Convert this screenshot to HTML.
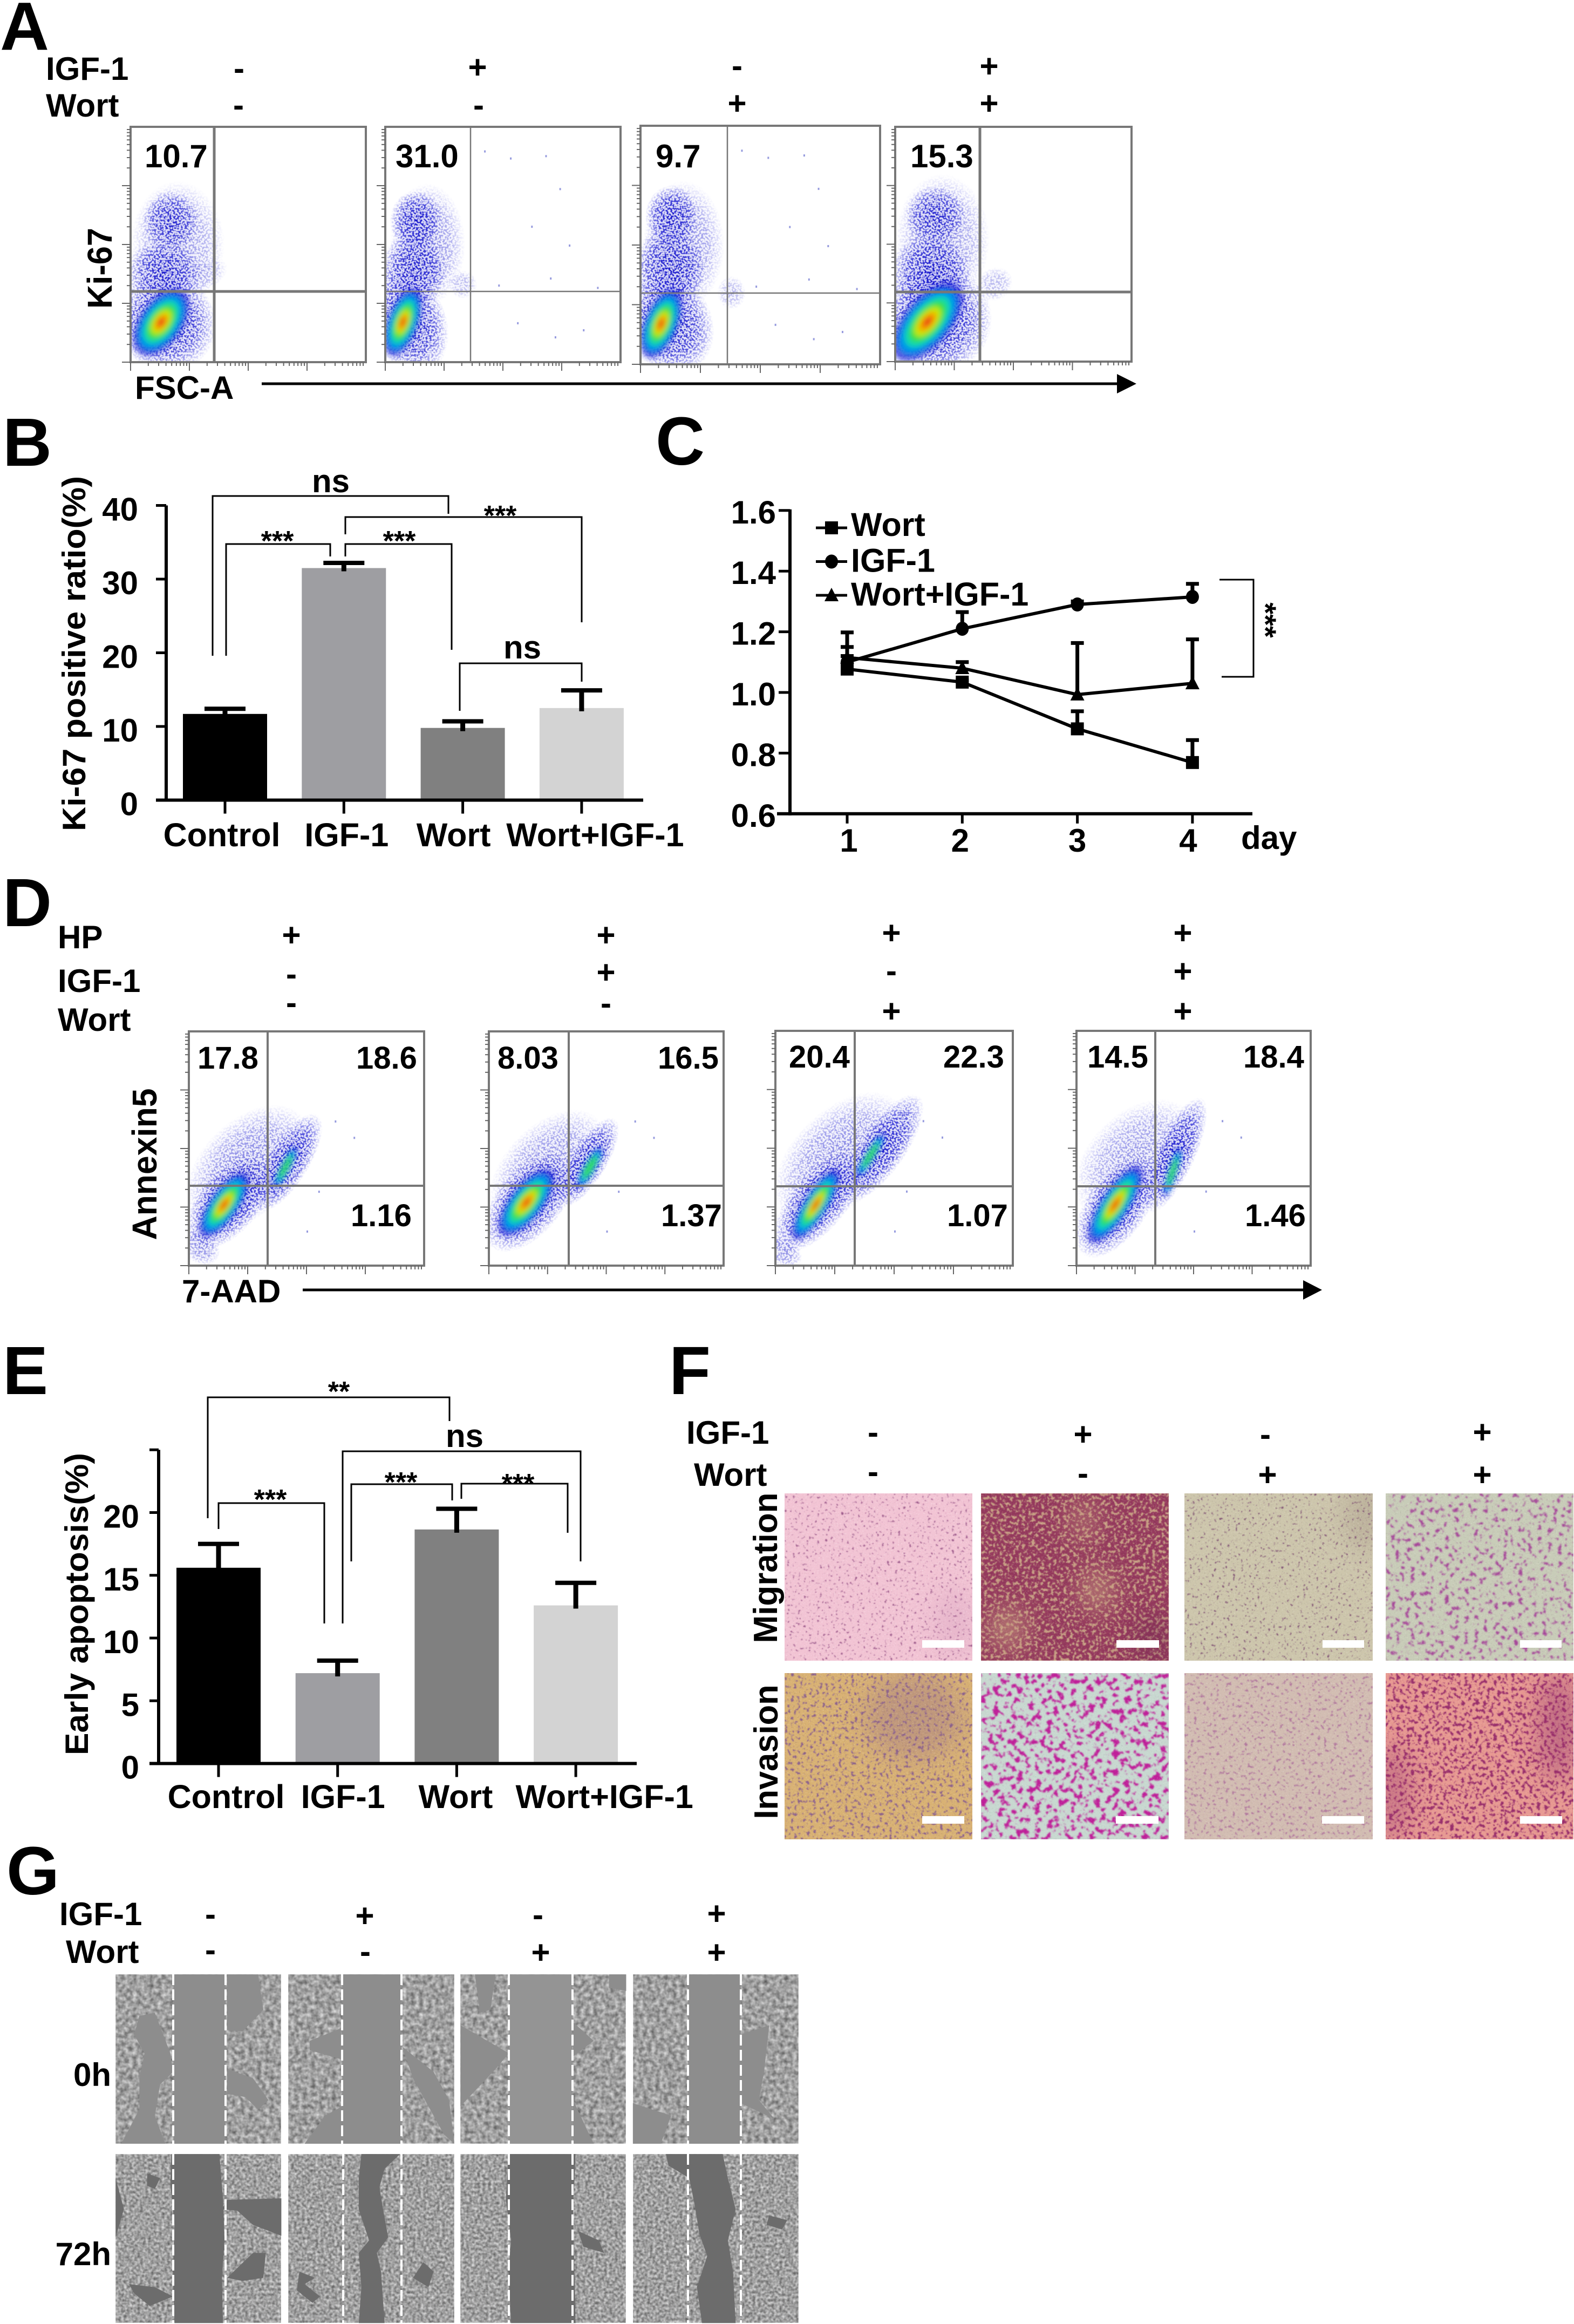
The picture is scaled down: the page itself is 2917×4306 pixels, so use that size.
<!DOCTYPE html>
<html lang="en">
<head>
<meta charset="utf-8">
<title>IGF-1 and wortmannin multi-panel figure</title>
<style>
html,body{margin:0;padding:0;background:#fff}
svg#figure{display:block}
text{font-family:"Liberation Sans",sans-serif;font-weight:bold;fill:#000}
.letter{font-size:126px}
.lab{font-size:60px}
.sign{font-size:60px;text-anchor:middle}
.num{font-size:58px}
.star{font-size:52px;text-anchor:middle}
.br{fill:none;stroke:#000;stroke-width:3}
</style>
</head>
<body>
<svg id="figure" xmlns="http://www.w3.org/2000/svg" width="2917" height="4306" viewBox="0 0 2917 4306">
<defs>
  <radialGradient id="cloudG">
    <stop offset="0" stop-color="#1010c8" stop-opacity="1"/>
    <stop offset=".6" stop-color="#1a1ad0" stop-opacity=".7"/>
    <stop offset="1" stop-color="#3030e0" stop-opacity="0"/>
  </radialGradient>
  <filter id="speckleF" x="0" y="0" width="100%" height="100%" color-interpolation-filters="sRGB">
    <feTurbulence type="fractalNoise" baseFrequency=".28" numOctaves="1" seed="7"/>
    <feColorMatrix values="0 0 0 0 1  0 0 0 0 1  0 0 0 0 1  7 0 0 0 -3.2"/>
  </filter>
  <mask id="speckle" maskUnits="userSpaceOnUse" x="0" y="0" width="2917" height="2500">
    <rect width="2917" height="2500" fill="#fff" filter="url(#speckleF)"/>
  </mask>
  <filter id="coreBlur" x="-30%" y="-30%" width="160%" height="160%"><feGaussianBlur stdDeviation="5"/></filter>
  <filter id="soft" x="-60%" y="-60%" width="220%" height="220%"><feGaussianBlur stdDeviation="22"/></filter>
  <filter id="grainW" x="0" y="0" width="100%" height="100%" color-interpolation-filters="sRGB">
    <feTurbulence type="fractalNoise" baseFrequency=".38" numOctaves="2" seed="11"/>
    <feColorMatrix values="0 0 0 0 1  0 0 0 0 1  0 0 0 0 1  3 0 0 0 -1.8"/>
  </filter>
  <filter id="grainD" x="0" y="0" width="100%" height="100%" color-interpolation-filters="sRGB">
    <feTurbulence type="fractalNoise" baseFrequency=".3" numOctaves="2" seed="23"/>
    <feColorMatrix values="0 0 0 0 .25  0 0 0 0 .2  0 0 0 0 .25  0 2.5 0 0 -1.5"/>
  </filter>
  <filter id="fM1" x="0" y="0" width="100%" height="100%" color-interpolation-filters="sRGB"><feTurbulence type="fractalNoise" baseFrequency=".2" numOctaves="2" seed="3"/><feColorMatrix values="0 0 0 0 .62  0 0 0 0 .36  0 0 0 0 .55  9 0 0 0 -5.85"/><feGaussianBlur stdDeviation=".8"/></filter>
  <filter id="fM2" x="0" y="0" width="100%" height="100%" color-interpolation-filters="sRGB"><feTurbulence type="fractalNoise" baseFrequency=".17" numOctaves="3" seed="5"/><feColorMatrix values="0 0 0 0 .58  0 0 0 0 .22  0 0 0 0 .36  9 0 0 0 -3.3"/><feGaussianBlur stdDeviation=".8"/></filter>
  <filter id="fM3" x="0" y="0" width="100%" height="100%" color-interpolation-filters="sRGB"><feTurbulence type="fractalNoise" baseFrequency=".2" numOctaves="2" seed="9"/><feColorMatrix values="0 0 0 0 .5  0 0 0 0 .32  0 0 0 0 .45  9 0 0 0 -5.85"/><feGaussianBlur stdDeviation=".8"/></filter>
  <filter id="fM4" x="0" y="0" width="100%" height="100%" color-interpolation-filters="sRGB"><feTurbulence type="fractalNoise" baseFrequency=".11" numOctaves="3" seed="14"/><feColorMatrix values="0 0 0 0 .65  0 0 0 0 .28  0 0 0 0 .6  9 0 0 0 -5.3"/><feGaussianBlur stdDeviation="1"/></filter>
  <filter id="fI1" x="0" y="0" width="100%" height="100%" color-interpolation-filters="sRGB"><feTurbulence type="fractalNoise" baseFrequency=".17" numOctaves="3" seed="17"/><feColorMatrix values="0 0 0 0 .55  0 0 0 0 .38  0 0 0 0 .55  9 0 0 0 -5.3"/><feGaussianBlur stdDeviation=".8"/></filter>
  <filter id="fI2" x="0" y="0" width="100%" height="100%" color-interpolation-filters="sRGB"><feTurbulence type="fractalNoise" baseFrequency=".09" numOctaves="3" seed="21"/><feColorMatrix values="0 0 0 0 .75  0 0 0 0 .12  0 0 0 0 .6  10 0 0 0 -5.4"/><feGaussianBlur stdDeviation="1"/></filter>
  <filter id="fI3" x="0" y="0" width="100%" height="100%" color-interpolation-filters="sRGB"><feTurbulence type="fractalNoise" baseFrequency=".17" numOctaves="2" seed="27"/><feColorMatrix values="0 0 0 0 .7  0 0 0 0 .48  0 0 0 0 .62  8 0 0 0 -4.8"/><feGaussianBlur stdDeviation=".8"/></filter>
  <filter id="fI4" x="0" y="0" width="100%" height="100%" color-interpolation-filters="sRGB"><feTurbulence type="fractalNoise" baseFrequency=".15" numOctaves="3" seed="31"/><feColorMatrix values="0 0 0 0 .6  0 0 0 0 .18  0 0 0 0 .42  9 0 0 0 -4.8"/><feGaussianBlur stdDeviation=".8"/></filter>
  <filter id="cells0" x="0" y="0" width="100%" height="100%" color-interpolation-filters="sRGB"><feTurbulence type="fractalNoise" baseFrequency=".13" numOctaves="3" seed="41"/><feColorMatrix values=".65 0 0 0 .3  .65 0 0 0 .3  .65 0 0 0 .3  0 0 0 0 1"/><feGaussianBlur stdDeviation=".7"/></filter>
  <filter id="cells72" x="0" y="0" width="100%" height="100%" color-interpolation-filters="sRGB"><feTurbulence type="fractalNoise" baseFrequency=".2" numOctaves="3" seed="43"/><feColorMatrix values=".75 0 0 0 .25  .75 0 0 0 .25  .75 0 0 0 .25  0 0 0 0 1"/><feGaussianBlur stdDeviation=".7"/></filter>
</defs>

<g id="chart-layer"></g>

<!-- Panel letters -->
<text class="letter" x="0" y="92">A</text>
<text class="letter" x="5" y="863">B</text>
<text class="letter" x="1215" y="861">C</text>
<text class="letter" x="5" y="1716">D</text>
<text class="letter" x="5" y="2583">E</text>
<text class="letter" x="1240" y="2583">F</text>
<text class="letter" x="12" y="3510">G</text>

<!-- Panel A labels -->
<g>
  <text class="lab" x="85" y="148">IGF-1</text>
  <text class="lab" x="85" y="216">Wort</text>
  <text class="sign" x="443" y="147">-</text><text class="sign" x="885" y="145">+</text><text class="sign" x="1366" y="142">-</text><text class="sign" x="1833" y="143">+</text>
  <text class="sign" x="442" y="215">-</text><text class="sign" x="887" y="215">-</text><text class="sign" x="1366" y="212">+</text><text class="sign" x="1833" y="212">+</text>
</g>
<g>
  <text class="lab" x="268" y="310">10.7</text>
  <text class="lab" x="733" y="310">31.0</text>
  <text class="lab" x="1215" y="310">9.7</text>
  <text class="lab" x="1687" y="310">15.3</text>
</g>
<text class="lab" font-size="64" style="font-size:64px" transform="translate(207,497) rotate(-90)" text-anchor="middle" textLength="150" lengthAdjust="spacingAndGlyphs">Ki-67</text>
<text class="lab" x="250" y="739">FSC-A</text>
<g>
  <line x1="485" y1="711" x2="2080" y2="711" stroke="#000" stroke-width="5"/>
  <polygon points="2070,693 2106,711 2070,729" fill="#000"/>
</g>

<!-- Panel B annotations -->
<text class="lab" transform="translate(158,1211) rotate(-90)" text-anchor="middle" textLength="658" lengthAdjust="spacingAndGlyphs">Ki-67 positive ratio(%)</text>
<g>
  <path class="br" d="M394 1215V919H831V952"/>
  <path class="br" d="M640 990V958H1078V1153"/>
  <path class="br" d="M419 1215V1008H612V1031"/>
  <path class="br" d="M640 1031V1008H837V1204"/>
  <path class="br" d="M852 1317V1229H1078V1263"/>
  <text class="lab" x="613" y="912" text-anchor="middle">ns</text>
  <text class="star" x="927" y="973">***</text>
  <text class="star" x="514" y="1020">***</text>
  <text class="star" x="740" y="1020">***</text>
  <text class="lab" x="968" y="1220" text-anchor="middle">ns</text>
</g>

<!-- Panel C annotations -->
<g>
  <path class="br" d="M2260 1074H2323V1254H2264"/>
  <text class="star" transform="translate(2326,1149) rotate(90)" x="0" y="0" style="font-size:56px">***</text>
</g>
<text class="lab" x="2300" y="1573">day</text>

<!-- Panel D labels -->
<g>
  <text class="lab" x="107" y="1757">HP</text>
  <text class="lab" x="107" y="1838">IGF-1</text>
  <text class="lab" x="107" y="1910">Wort</text>
  <text class="sign" x="540" y="1753">+</text><text class="sign" x="540" y="1825">-</text><text class="sign" x="540" y="1878">-</text>
  <text class="sign" x="1123" y="1753">+</text><text class="sign" x="1123" y="1822">+</text><text class="sign" x="1123" y="1879">-</text>
  <text class="sign" x="1652" y="1749">+</text><text class="sign" x="1652" y="1819">-</text><text class="sign" x="1652" y="1894">+</text>
  <text class="sign" x="2192" y="1749">+</text><text class="sign" x="2192" y="1820">+</text><text class="sign" x="2192" y="1894">+</text>
</g>
<g>
  <text class="num" x="366" y="1980">17.8</text><text class="num" x="660" y="1980">18.6</text><text class="num" x="650" y="2272">1.16</text>
  <text class="num" x="922" y="1980">8.03</text><text class="num" x="1219" y="1980">16.5</text><text class="num" x="1225" y="2272">1.37</text>
  <text class="num" x="1462" y="1978">20.4</text><text class="num" x="1748" y="1978">22.3</text><text class="num" x="1755" y="2272">1.07</text>
  <text class="num" x="2015" y="1978">14.5</text><text class="num" x="2304" y="1978">18.4</text><text class="num" x="2307" y="2272">1.46</text>
</g>
<text class="lab" style="font-size:64px" transform="translate(290,2157) rotate(-90)" text-anchor="middle" textLength="281" lengthAdjust="spacingAndGlyphs">Annexin5</text>
<text class="lab" x="337" y="2413">7-AAD</text>
<g>
  <line x1="561" y1="2390" x2="2425" y2="2390" stroke="#000" stroke-width="5"/>
  <polygon points="2415,2372 2450,2390 2415,2408" fill="#000"/>
</g>

<!-- Panel E annotations -->
<text class="lab" transform="translate(163,2972) rotate(-90)" text-anchor="middle" textLength="560" lengthAdjust="spacingAndGlyphs">Early apoptosis(%)</text>
<g>
  <path class="br" d="M385 2813V2589H833V2633"/>
  <path class="br" d="M635 3008V2689H1076V2893"/>
  <path class="br" d="M405 2833V2785H601V3008"/>
  <path class="br" d="M651 2893V2750H838V2780"/>
  <path class="br" d="M855 2777V2749H1052V2840"/>
  <text class="star" x="628" y="2596">**</text>
  <text class="lab" x="861" y="2681" text-anchor="middle">ns</text>
  <text class="star" x="501" y="2796">***</text>
  <text class="star" x="743" y="2764">***</text>
  <text class="star" x="960" y="2767">***</text>
</g>

<!-- Panel F -->
<g>
  <text class="lab" x="1272" y="2675">IGF-1</text>
  <text class="lab" x="1286" y="2753">Wort</text>
  <text class="sign" x="1618" y="2674">-</text><text class="sign" x="2007" y="2678">+</text><text class="sign" x="2345" y="2678">-</text><text class="sign" x="2747" y="2674">+</text>
  <text class="sign" x="1618" y="2747">-</text><text class="sign" x="2007" y="2750">-</text><text class="sign" x="2349" y="2753">+</text><text class="sign" x="2747" y="2753">+</text>
</g>
<text class="lab" style="font-size:62px" transform="translate(1440,2905) rotate(-90)" text-anchor="middle" textLength="279" lengthAdjust="spacingAndGlyphs">Migration</text>
<text class="lab" style="font-size:62px" transform="translate(1441,3246) rotate(-90)" text-anchor="middle" textLength="249" lengthAdjust="spacingAndGlyphs">Invasion</text>

<svg x="1454" y="2767" width="348" height="310">
  <rect width="100%" height="100%" fill="#f2c4d4"/>
  <ellipse cx="315" cy="240" rx="40" ry="65" fill="#b070a0" opacity=".15" filter="url(#soft)"/>
  <rect width="100%" height="100%" filter="url(#fM1)"/>
  <rect width="100%" height="100%" filter="url(#grainW)" opacity=".45"/>
  <rect width="100%" height="100%" filter="url(#grainD)" opacity=".1"/>
  <rect x="255" y="272" width="78" height="14" fill="#fff"/>
</svg>
<svg x="1818" y="2767" width="348" height="310">
  <rect width="100%" height="100%" fill="#c8a084"/>
  <rect width="100%" height="100%" filter="url(#fM2)"/>
  <ellipse cx="190" cy="50" rx="25" ry="40" fill="#c9a080" opacity=".45" filter="url(#soft)"/>
  <ellipse cx="215" cy="180" rx="30" ry="40" fill="#c9a080" opacity=".6" filter="url(#soft)"/>
  <ellipse cx="50" cy="250" rx="35" ry="40" fill="#c9a080" opacity=".6" filter="url(#soft)"/>
  <ellipse cx="320" cy="270" rx="40" ry="45" fill="#702850" opacity=".4" filter="url(#soft)"/>
  <rect width="100%" height="100%" filter="url(#grainW)" opacity=".3"/>
  <rect width="100%" height="100%" filter="url(#grainD)" opacity=".25"/>
  <rect x="251" y="272" width="79" height="14" fill="#fff"/>
</svg>
<svg x="2195" y="2767" width="349" height="310">
  <rect width="100%" height="100%" fill="#cdc6ac"/>
  <ellipse cx="335" cy="40" rx="40" ry="70" fill="#a09080" opacity=".35" filter="url(#soft)"/>
  <rect width="100%" height="100%" filter="url(#fM3)"/>
  <rect width="100%" height="100%" filter="url(#grainW)" opacity=".3"/>
  <rect width="100%" height="100%" filter="url(#grainD)" opacity=".18"/>
  <rect x="256" y="272" width="77" height="14" fill="#fff"/>
</svg>
<svg x="2568" y="2767" width="348" height="310">
  <rect width="100%" height="100%" fill="#c8ccb8"/>
  <rect width="100%" height="100%" filter="url(#fM4)"/>
  <rect width="100%" height="100%" filter="url(#grainW)" opacity=".3"/>
  <rect width="100%" height="100%" filter="url(#grainD)" opacity=".16"/>
  <rect x="249" y="272" width="77" height="14" fill="#fff"/>
</svg>
<svg x="1454" y="3100" width="348" height="308">
  <rect width="100%" height="100%" fill="#d9b274"/>
  <ellipse cx="240" cy="80" rx="90" ry="80" fill="#8a6090" opacity=".3" filter="url(#soft)"/>
  <rect width="100%" height="100%" filter="url(#fI1)"/>
  <rect width="100%" height="100%" filter="url(#grainW)" opacity=".3"/>
  <rect width="100%" height="100%" filter="url(#grainD)" opacity=".22"/>
  <rect x="255" y="265" width="78" height="14" fill="#fff"/>
</svg>
<svg x="1818" y="3100" width="348" height="308">
  <rect width="100%" height="100%" fill="#c8d8d0"/>
  <rect width="100%" height="100%" filter="url(#fI2)"/>
  <rect width="100%" height="100%" filter="url(#grainW)" opacity=".3"/>
  <rect width="100%" height="100%" filter="url(#grainD)" opacity=".12"/>
  <rect x="250" y="265" width="79" height="14" fill="#fff"/>
</svg>
<svg x="2195" y="3100" width="349" height="308">
  <rect width="100%" height="100%" fill="#d2bdb2"/>
  <rect width="100%" height="100%" filter="url(#fI3)"/>
  <rect width="100%" height="100%" filter="url(#grainW)" opacity=".3"/>
  <rect width="100%" height="100%" filter="url(#grainD)" opacity=".12"/>
  <rect x="255" y="265" width="78" height="14" fill="#fff"/>
</svg>
<svg x="2568" y="3100" width="348" height="308">
  <rect width="100%" height="100%" fill="#e89a92"/>
  <ellipse cx="320" cy="100" rx="40" ry="100" fill="#903070" opacity=".4" filter="url(#soft)"/>
  <ellipse cx="10" cy="220" rx="40" ry="90" fill="#903070" opacity=".3" filter="url(#soft)"/>
  <rect width="100%" height="100%" filter="url(#fI4)"/>
  <rect width="100%" height="100%" filter="url(#grainW)" opacity=".25"/>
  <rect width="100%" height="100%" filter="url(#grainD)" opacity=".18"/>
  <rect x="249" y="265" width="78" height="14" fill="#fff"/>
</svg>

<!-- Panel G -->
<g>
  <text class="lab" x="110" y="3567">IGF-1</text>
  <text class="lab" x="122" y="3637">Wort</text>
  <text class="sign" x="390" y="3567">-</text><text class="sign" x="676" y="3570">+</text><text class="sign" x="997" y="3568">-</text><text class="sign" x="1328" y="3566">+</text>
  <text class="sign" x="390" y="3633">-</text><text class="sign" x="677" y="3636">-</text><text class="sign" x="1002" y="3638">+</text><text class="sign" x="1328" y="3638">+</text>
</g>
<text class="lab" x="206" y="3865" text-anchor="end">0h</text>
<text class="lab" x="206" y="4197" text-anchor="end">72h</text>

<g>
  <rect x="214" y="3658" width="307" height="314" filter="url(#cells0)"/>
  <rect x="534" y="3658" width="308" height="314" filter="url(#cells0)"/>
  <rect x="853" y="3658" width="307" height="314" filter="url(#cells0)"/>
  <rect x="1173" y="3658" width="307" height="314" filter="url(#cells0)"/>
</g>
<g>
  <rect x="214" y="3991" width="307" height="313" filter="url(#cells72)"/>
  <rect x="534" y="3991" width="308" height="313" filter="url(#cells72)"/>
  <rect x="853" y="3991" width="307" height="313" filter="url(#cells72)"/>
  <rect x="1173" y="3991" width="307" height="313" filter="url(#cells72)"/>
</g>
<g transform="translate(0,3400) scale(.95667,.5778)" fill="#8d8d8d">
  <rect x="336" y="447" width="101" height="543"/>
  <polygon points="270,580 300,570 330,700 335,760 310,800 300,900 320,990 235,990 270,880 270,780 280,700 260,640"/>
  <polygon points="440,447 500,447 510,560 470,630 440,625"/>
  <polygon points="440,750 490,780 520,850 500,880 475,840 440,830"/>
  <rect x="663" y="447" width="115" height="543"/>
  <polygon points="600,660 660,620 663,720 600,690"/>
  <polygon points="590,990 630,900 663,870 663,990"/>
  <polygon points="780,680 840,760 870,850 880,990 860,960 800,780"/>
  <rect x="986" y="447" width="123" height="543" fill="#949494"/>
  <polygon points="892,610 986,700 960,750 892,870"/>
  <polygon points="920,447 960,447 950,560 930,570"/>
  <polygon points="1110,600 1150,660 1110,710"/>
  <polygon points="1180,447 1213,447 1213,500 1180,490"/>
  <polygon points="1110,850 1150,990 1110,990"/>
  <rect x="1333" y="447" width="102" height="543"/>
  <polygon points="1226,860 1300,900 1280,990 1226,990"/>
  <polygon points="1435,640 1490,610 1480,760 1470,850 1500,910 1435,860"/>
</g>
<g transform="translate(0,3400) scale(.95667,.5778)" fill="#6c6c6c">
  <polygon points="332,1023 425,1023 432,1170 435,1300 430,1420 432,1565 338,1565 335,1400 338,1250 330,1120"/>
  <polygon points="285,1085 310,1100 300,1135 285,1125"/>
  <polygon points="440,1170 545,1165 545,1285 490,1250 460,1205 430,1200"/>
  <polygon points="250,1440 300,1450 335,1480 290,1510 260,1470"/>
  <polygon points="490,1340 515,1340 510,1420 470,1430 440,1420"/>
  <polygon points="224,1100 240,1200 224,1290"/>
  <polygon points="700,1023 775,1023 745,1070 735,1130 742,1200 752,1290 730,1340 738,1400 745,1565 695,1565 700,1450 695,1340 715,1300 695,1200 695,1100"/>
  <polygon points="580,1400 610,1420 590,1440 620,1480 605,1500 575,1460"/>
  <polygon points="820,1370 840,1400 830,1450 800,1420"/>
  <polygon points="985,1023 1115,1023 1110,1200 1115,1565 990,1565 985,1400 990,1300 980,1170"/>
  <polygon points="1120,1270 1160,1300 1170,1340 1130,1320"/>
  <polygon points="1290,1023 1400,1023 1410,1100 1425,1200 1410,1300 1420,1400 1425,1565 1360,1565 1350,1450 1370,1350 1355,1280 1345,1180 1335,1100 1295,1060"/>
  <polygon points="1490,1220 1525,1235 1515,1265 1485,1250"/>
</g>
<g stroke="#fff" stroke-width="4" stroke-dasharray="20 8">
  <line x1="321" y1="3658" x2="321" y2="3972"/><line x1="418" y1="3658" x2="418" y2="3972"/>
  <line x1="634" y1="3658" x2="634" y2="3972"/><line x1="744" y1="3658" x2="744" y2="3972"/>
  <line x1="943" y1="3658" x2="943" y2="3972"/><line x1="1061" y1="3658" x2="1061" y2="3972"/>
  <line x1="1275" y1="3658" x2="1275" y2="3972"/><line x1="1373" y1="3658" x2="1373" y2="3972"/>
  <line x1="321" y1="3991" x2="321" y2="4304"/><line x1="418" y1="3991" x2="418" y2="4304"/>
  <line x1="636" y1="3991" x2="636" y2="4304"/><line x1="744" y1="3991" x2="744" y2="4304"/>
  <line x1="943" y1="3991" x2="943" y2="4304"/><line x1="1061" y1="3991" x2="1061" y2="4304"/>
  <line x1="1275" y1="3991" x2="1275" y2="4304"/><line x1="1373" y1="3991" x2="1373" y2="4304"/>
</g>
</svg>

<script>
/* Panel B values */
const bCategories = ['Control', 'IGF-1', 'Wort', 'Wort+IGF-1'];
const bMeans = [11.7, 31.5, 9.8, 12.5];
const bUpper = [12.4, 32.2, 10.7, 14.9];
const bTicks = [0, 10, 20, 30, 40];
/* Panel E values */
const eCategories = ['Control', 'IGF-1', 'Wort', 'Wort+IGF-1'];
const eMeans = [15.6, 7.2, 18.65, 12.6];
const eUpper = [17.5, 8.2, 20.3, 14.4];
const eTicks = [0, 5, 10, 15, 20];
const eBlankTicks = [25];
/* Panel C values */
const cDays = [1, 2, 3, 4];
const cSeriesNames = ['Wort', 'IGF-1', 'Wort+IGF-1'];
const cWort = [1.077, 1.034, 0.88, 0.769];
const cWortUpper = [1.15, 1.04, 0.938, 0.843];
const cIgf = [1.10, 1.21, 1.29, 1.315];
const cIgfUpper = [1.198, 1.265, 1.30, 1.358];
const cCombo = [1.115, 1.08, 0.993, 1.03];
const cComboUpper = [1.12, 1.10, 1.163, 1.175];
const cTicks = [0.6, 0.8, 1.0, 1.2, 1.4, 1.6];
/* Flow-cytometry density clusters: [x, y, spreadX, spreadY, tilt, weight] in axis fractions */
const a1Clouds = [[.15,.17,.21,.22,-40,1],[.14,.38,.16,.14,0,.9],[.17,.6,.12,.13,0,.85],[.2,.5,.2,.27,0,.4],[.32,.37,.1,.06,-30,.22]];
const a1Core = [.13,.17,.16,.09,-55];
const a2Clouds = [[.1,.17,.16,.23,-20,1],[.12,.39,.14,.16,0,.95],[.13,.6,.11,.13,0,.95],[.18,.5,.16,.26,0,.45],[.33,.33,.06,.06,0,.28]];
const a2Core = [.075,.17,.15,.065,-70];
const a3Clouds = [[.12,.17,.18,.22,-25,1],[.12,.4,.15,.18,0,.95],[.13,.62,.11,.13,0,.95],[.18,.5,.17,.27,0,.45],[.38,.3,.06,.07,0,.28]];
const a3Core = [.086,.17,.15,.07,-68];
const a4Clouds = [[.17,.18,.24,.24,-35,1],[.15,.38,.17,.17,0,.95],[.17,.62,.13,.13,0,.85],[.2,.52,.2,.28,0,.4],[.42,.33,.08,.07,-30,.28]];
const a4Core = [.137,.17,.2,.1,-50];
const d1Clouds = [[.17,.27,.24,.13,-50,1],[.42,.44,.24,.09,-58,.95],[.25,.42,.32,.2,-45,.5],[.05,.08,.07,.09,-50,.45]];
const d1Core = [.15,.26,.16,.06,-55];
const d1Core2 = [.41,.42,.1,.02,-62];
const d2Clouds = [[.17,.27,.25,.14,-50,1],[.42,.44,.22,.08,-58,.95],[.25,.42,.3,.18,-45,.45]];
const d2Core = [.16,.27,.17,.07,-52];
const d2Core2 = [.43,.42,.1,.025,-60];
const d3Clouds = [[.18,.27,.26,.12,-50,1],[.45,.5,.27,.1,-55,.95],[.27,.46,.34,.2,-45,.48],[.03,.06,.06,.09,-60,.45]];
const d3Core = [.17,.26,.17,.05,-58];
const d3Core2 = [.4,.47,.11,.02,-58];
const d4Clouds = [[.17,.25,.25,.13,-55,1],[.42,.47,.27,.085,-65,.95],[.25,.45,.31,.2,-45,.42]];
const d4Core = [.165,.26,.19,.06,-57];
const d4Core2 = [.41,.4,.11,.018,-72];
const aStray = [[.42,.9],[.53,.87],[.68,.88],[.74,.74],[.62,.58],[.78,.5],[.9,.32],[.7,.36],[.56,.17],[.72,.11],[.84,.14],[.48,.33]];
const dStray = [[.62,.62],[.7,.55],[.5,.15],[.55,.32]];

const NS = 'http://www.w3.org/2000/svg';
const root = document.getElementById('chart-layer');
function el(tag, name, parent) {
  const e = document.createElementNS(NS, tag);
  
  
  (parent || root).appendChild(e);
  return e;
}
function attrs(e, o) { for (const k in o) e.setAttribute(k, o[k]); return e; }
function line(name, parent, x1, y1, x2, y2, w, color) {
  return attrs(el('line', name, parent), {x1, y1, x2, y2, stroke: color || '#000', 'stroke-width': w});
}
function label(name, parent, x, y, str, anchor, size) {
  const t = attrs(el('text', name, parent), {x, y, 'text-anchor': anchor || 'middle', style: 'font-size:' + (size || 60) + 'px'});
  t.textContent = str;
  return t;
}

/* ----- bar charts ----- */
const barFills = ['#000000', '#9e9ea2', '#808080', '#d3d3d3'];
function drawBars(prefix, cats, means, upper, ticks, blank, xAt, yAt, axisX, xEnd, tickLeft, labelNudge, labelBase, tickBase, topY) {
  const g = el('g', prefix + '-bar-chart');
  cats.forEach((c, i) => {
    attrs(el('rect', prefix + '-bar-' + i, g), {x: xAt(i) - 78, y: yAt(means[i]), width: 156, height: yAt(0) - yAt(means[i]), fill: barFills[i]});
  });
  cats.forEach((c, i) => {
    line(prefix + '-error-stem-' + i, g, xAt(i), yAt(means[i]) + 6, xAt(i), yAt(upper[i]), 9);
    line(prefix + '-error-cap-' + i, g, xAt(i) - 38, yAt(upper[i]), xAt(i) + 38, yAt(upper[i]), 8);
    line(prefix + '-x-tick-' + i, g, xAt(i), yAt(0), xAt(i), yAt(0) + 25, 5);
    label(prefix + '-x-label-' + i, g, xAt(i) + labelNudge[i], labelBase, c, 'middle', 61);
  });
  line(prefix + '-y-axis', g, axisX, topY, axisX, yAt(0) + 3, 6);
  line(prefix + '-x-axis', g, tickLeft, yAt(0), xEnd, yAt(0), 6);
  ticks.forEach(v => {
    line(prefix + '-y-tick-' + v, g, tickLeft, yAt(v), axisX, yAt(v), 5);
    label(prefix + '-y-label-' + v, g, tickBase, yAt(v) + 28, String(v), 'end', 60);
  });
  blank.forEach(v => { line(prefix + '-y-tick-' + v, g, tickLeft, yAt(v), axisX, yAt(v), 5); });
}
const xB = i => 417 + 220.3 * i;
const yB = v => 1482.5 - 13.65 * v;
drawBars('panel-b', bCategories, bMeans, bUpper, bTicks, [], xB, yB, 308, 1192, 289, [-6, 5, -17, 25], 1568, 256, yB(40));
const xE = i => 405 + 220.7 * i;
const yE = v => 3267.5 - 23.25 * v;
drawBars('panel-e', eCategories, eMeans, eUpper, eTicks, eBlankTicks, xE, yE, 294, 1180, 277, [14, 10, -2, 53], 3350, 258, yE(25));

/* ----- line chart ----- */
const xC = d => 1570 + 213.3 * (d - 1);
const yC = v => 1283 - 562 * (v - 1);
function marker(kind, name, parent, x, y) {
  if (kind === 'square') attrs(el('rect', name, parent), {x: x - 12, y: y - 12, width: 24, height: 24, fill: '#000'});
  if (kind === 'circle') attrs(el('ellipse', name, parent), {cx: x, cy: y, rx: 12, ry: 13, fill: '#000'});
  if (kind === 'triangle') attrs(el('polygon', name, parent), {points: (x - 13) + ',' + (y + 11) + ' ' + (x + 13) + ',' + (y + 11) + ' ' + x + ',' + (y - 14), fill: '#000'});
}
(function drawLineChart() {
  const g = el('g', 'panel-c-line-chart');
  const all = [[cWort, cWortUpper, 'square'], [cIgf, cIgfUpper, 'circle'], [cCombo, cComboUpper, 'triangle']];
  all.forEach((s, k) => {
    const sg = el('g', 'series-' + cSeriesNames[k], g);
    attrs(el('polyline', 'series-line-' + cSeriesNames[k], sg), {
      points: cDays.map((d, i) => xC(d) + ',' + yC(s[0][i])).join(' '),
      fill: 'none', stroke: '#000', 'stroke-width': 6
    });
    cDays.forEach((d, i) => {
      line('error-stem-' + cSeriesNames[k] + '-' + d, sg, xC(d), yC(s[0][i]), xC(d), yC(s[1][i]), 7);
      line('error-cap-' + cSeriesNames[k] + '-' + d, sg, xC(d) - 12, yC(s[1][i]), xC(d) + 12, yC(s[1][i]), 7);
      marker(s[2], 'marker-' + cSeriesNames[k] + '-' + d, sg, xC(d), yC(s[0][i]));
    });
    const ly = 978 + 62.5 * k;
    line('legend-line-' + cSeriesNames[k], g, 1512, ly, 1570, ly, 5);
    marker(s[2], 'legend-marker-' + cSeriesNames[k], g, 1541, ly);
    label('legend-label-' + cSeriesNames[k], g, 1577, ly + 15 + 2 * (k === 0 ? 0 : 2), cSeriesNames[k], 'start', 61);
  });
  line('panel-c-y-axis', g, 1464, yC(1.6) - 2, 1464, yC(0.6) + 3, 6);
  line('panel-c-x-axis', g, 1440, yC(0.6), 2321, yC(0.6), 6);
  cTicks.forEach(v => {
    line('panel-c-y-tick-' + v, g, 1443, yC(v), 1464, yC(v), 5);
    label('panel-c-y-label-' + v, g, 1438, yC(v) + 24, v.toFixed(1), 'end', 60);
  });
  const nudge = [3, -4, 0, -8];
  cDays.forEach((d, i) => {
    line('panel-c-x-tick-' + d, g, xC(d), yC(0.6), xC(d), yC(0.6) + 18, 5);
    label('panel-c-x-label-' + d, g, xC(d) + nudge[i], 1578, String(d), 'middle', 60);
  });
})();

/* ----- flow plots ----- */
const jet = ['#1a22d8', '#0090ec', '#10d8b0', '#30e040', '#c8e800', '#f8a000', '#e83010'];
const jetScale = [1, .82, .66, .52, .38, .25, .13];
function drawFlow(name, left, top, width, height, gateX, gateY, gateWidth, clouds, cores, stray) {
  const fx = f => left + f * width;
  const fy = f => top + height - f * height;
  const g = el('g', name);
  const clip = el('clipPath', name + '-clip', g);
  clip.setAttribute('id', name + '-clip');
  attrs(el('rect', name + '-clip-rect', clip), {x: left, y: top, width: width, height: height});
  const inner = el('g', name + '-events', g);
  inner.setAttribute('clip-path', 'url(#' + name + '-clip)');
  const paint = (parent, scale) => clouds.forEach((c, i) => {
    attrs(el('ellipse', name + '-cloud-' + i, parent), {
      cx: 0, cy: 0, rx: c[2] * width, ry: c[3] * height, fill: 'url(#cloudG)', opacity: c[5] * scale,
      transform: 'translate(' + fx(c[0]) + ',' + fy(c[1]) + ') rotate(' + c[4] + ')'
    });
  });
  paint(inner, .16);
  const masked = el('g', name + '-speckled-events', inner);
  masked.setAttribute('mask', 'url(#speckle)');
  paint(masked, 1);
  cores.forEach((c, ci) => {
    const cg = el('g', name + '-density-core-' + ci, inner);
    cg.setAttribute('filter', 'url(#coreBlur)');
    const levels = ci === 0 ? jet.length : 4;
    for (let i = 0; i < levels; i++) {
      attrs(el('ellipse', name + '-density-level-' + i, cg), {
        cx: 0, cy: 0, rx: c[2] * width * jetScale[i], ry: c[3] * height * jetScale[i], fill: jet[i],
        opacity: i === 0 ? .75 : 1,
        transform: 'translate(' + fx(c[0]) + ',' + fy(c[1]) + ') rotate(' + c[4] + ')'
      });
    }
  });
  stray.forEach((s, i) => {
    attrs(el('rect', name + '-event-' + i, inner), {x: fx(s[0]), y: fy(s[1]), width: 3, height: 4, fill: '#5058c8', opacity: .6});
  });
  const frame = '#777';
  attrs(el('rect', name + '-frame', g), {x: left, y: top, width: width, height: height, fill: 'none', stroke: frame, 'stroke-width': 4});
  line(name + '-gate-vertical', g, gateX, top, gateX, top + height, gateWidth, '#777');
  line(name + '-gate-horizontal', g, left, gateY, left + width, gateY, gateWidth, '#777');
  for (let d = 0; d < 4; d++) {
    for (let m = 1; m < 10; m++) {
      const p = (d + Math.log10(m)) / 4;
      const major = m === 1 ? 16 : 7;
      line(name + '-x-tick', g, fx(p), top + height, fx(p), top + height + major, 2, '#666');
      line(name + '-y-tick', g, left, fy(p), left - major, fy(p), 2, '#666');
    }
  }
}
drawFlow('flow-a-control', 242, 235, 436, 436, 397, 540, 5, a1Clouds, [a1Core], []);
drawFlow('flow-a-igf1', 714, 235, 436, 436, 872, 540, 2.5, a2Clouds, [a2Core], aStray);
drawFlow('flow-a-wort', 1187, 233, 444, 442, 1348, 543, 2.5, a3Clouds, [a3Core], aStray);
drawFlow('flow-a-wort-igf1', 1659, 235, 438, 435, 1816, 541, 5, a4Clouds, [a4Core], []);
drawFlow('flow-d-control', 350, 1911, 436, 434, 496, 2197, 4, d1Clouds, [d1Core, d1Core2], dStray);
drawFlow('flow-d-igf1', 906, 1911, 435, 434, 1054, 2197, 4, d2Clouds, [d2Core, d2Core2], dStray);
drawFlow('flow-d-wort', 1437, 1910, 440, 435, 1584, 2198, 4, d3Clouds, [d3Core, d3Core2], dStray);
drawFlow('flow-d-wort-igf1', 1995, 1910, 434, 435, 2141, 2198, 4, d4Clouds, [d4Core, d4Core2], dStray);
</script>
</body>
</html>
